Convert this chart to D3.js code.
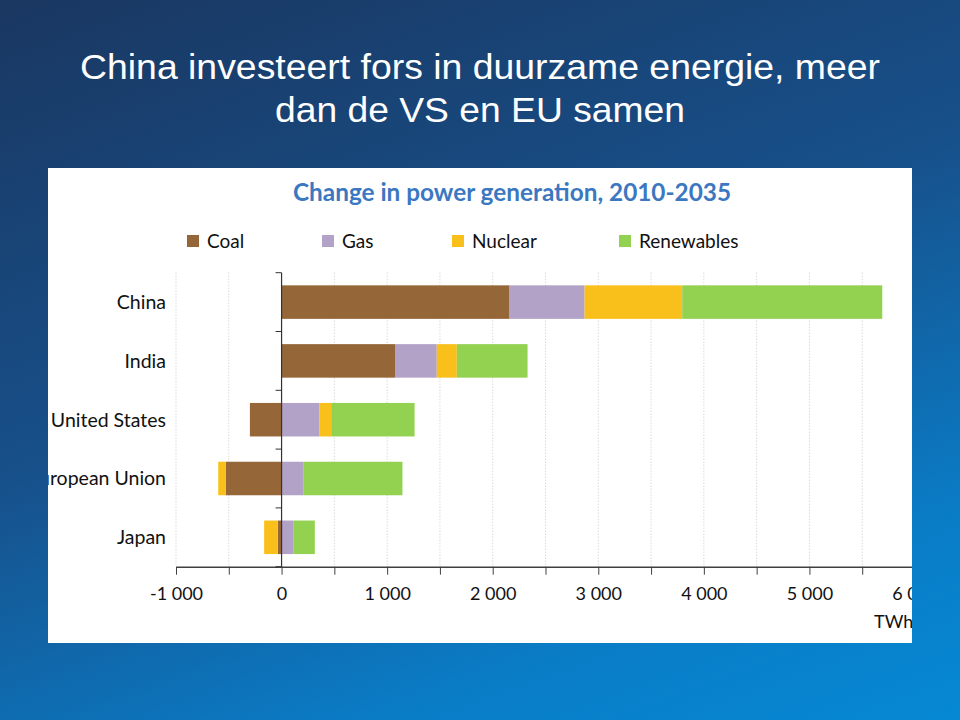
<!DOCTYPE html>
<html>
<head>
<meta charset="utf-8">
<script src="https://cdn.jsdelivr.net/npm/d3@7"></script>
<style>
  html, body { margin: 0; padding: 0; }
  body {
    width: 960px; height: 720px; overflow: hidden;
    background: linear-gradient(160deg, #1a3761 0%, #17508a 45%, #0a7cc6 80%, #0688d3 100%);
  }
</style>
</head>
<body>
<div id="container"></div>
<script>
const countries = ["China", "India", "United States", "European Union", "Japan"];
const seriesNames = ["Coal", "Gas", "Nuclear", "Renewables"];
const coal = [2160, 1080, -300, -530, -35];
const gas = [710, 390, 360, 205, 110];
const nuclear = [925, 190, 110, -70, -130];
const renewables = [1895, 670, 790, 940, 205];
const xTicks = [-1000, 0, 1000, 2000, 3000, 4000, 5000, 6000];

const colors = ["#956637", "#b3a2c7", "#f9c01c", "#93d150"];

const rows = countries.map((c, i) => ({
  country: c,
  Coal: coal[i],
  Gas: gas[i],
  Nuclear: nuclear[i],
  Renewables: renewables[i],
}));

const svg = d3
  .select("#container")
  .append("svg")
  .attr("width", 960)
  .attr("height", 720);

// slide title
const title = svg
  .append("text")
  .attr("text-anchor", "middle")
  .attr("fill", "#fff")
  .style("font-family", "'Liberation Sans', Arial, sans-serif")
  .style("font-size", "35px");
title.append("tspan").attr("x", 480).attr("y", 79)
  .attr("textLength", 800).attr("lengthAdjust", "spacingAndGlyphs")
  .text("China investeert fors in duurzame energie, meer");
title.append("tspan").attr("x", 480).attr("y", 122)
  .attr("textLength", 410).attr("lengthAdjust", "spacingAndGlyphs")
  .text("dan de VS en EU samen");

// white panel
const panel = { x: 48, y: 168, w: 864, h: 475 };
svg
  .append("defs")
  .append("clipPath")
  .attr("id", "panel-clip")
  .append("rect")
  .attr("x", panel.x)
  .attr("y", panel.y)
  .attr("width", panel.w)
  .attr("height", panel.h);

svg
  .append("rect")
  .attr("x", panel.x)
  .attr("y", panel.y)
  .attr("width", panel.w)
  .attr("height", panel.h)
  .attr("fill", "#fff");

const g = svg
  .append("g")
  .attr("clip-path", "url(#panel-clip)")
  .style("font-family", "Lato, 'Open Sans', sans-serif");

g.append("text")
  .attr("x", 512)
  .attr("y", 201)
  .attr("text-anchor", "middle")
  .attr("fill", "#3b78c1")
  .attr("textLength", 438)
  .attr("lengthAdjust", "spacingAndGlyphs")
  .style("font-size", "25px")
  .style("font-weight", "bold")
  .text("Change in power generation, 2010-2035");

// legend
const legendX = [187, 322, 452, 619];
const legend = g
  .selectAll(".legend")
  .data(seriesNames)
  .enter()
  .append("g")
  .attr("class", "legend")
  .attr("transform", (d, i) => `translate(${legendX[i]}, 241)`);
legend
  .append("rect")
  .attr("x", 0)
  .attr("y", -6)
  .attr("width", 12)
  .attr("height", 12)
  .attr("fill", (d, i) => colors[i]);
legend
  .append("text")
  .attr("x", 20)
  .attr("y", 7)
  .attr("fill", "#111")
  .style("font-size", "19px")
  .text((d) => d);

// scales
const x = d3.scaleLinear().domain([-1000, 6000]).range([176, 915]);
const y = d3
  .scaleBand()
  .domain(countries)
  .range([272.7, 566.7])
  .paddingInner(0.43)
  .paddingOuter(0.215);

// gridlines every 500
const gridValues = d3.range(-1000, 6001, 500).filter((d) => d !== 0);
g.selectAll(".grid")
  .data(gridValues)
  .enter()
  .append("line")
  .attr("class", "grid")
  .attr("x1", (d) => x(d))
  .attr("x2", (d) => x(d))
  .attr("y1", y.range()[0])
  .attr("y2", y.range()[1])
  .attr("stroke", "#c8c8c8")
  .attr("stroke-width", 1)
  .attr("stroke-dasharray", "1,2");

// stacked bars
const stack = d3.stack().keys(seriesNames).offset(d3.stackOffsetDiverging);
const stacked = stack(rows);

g.selectAll(".series")
  .data(stacked)
  .enter()
  .append("g")
  .attr("class", "series")
  .attr("fill", (d, i) => colors[i])
  .selectAll("rect")
  .data((d) => d)
  .enter()
  .append("rect")
  .attr("x", (d) => x(Math.min(d[0], d[1])))
  .attr("width", (d) => Math.abs(x(d[1]) - x(d[0])))
  .attr("y", (d) => y(d.data.country))
  .attr("height", y.bandwidth());

// x axis
const locale = d3.formatLocale({ decimal: ",", thousands: " ", grouping: [3], currency: ["", ""], minus: "-" });
const fmt = locale.format(",d");
const xAxis = d3
  .axisBottom(x)
  .tickValues(d3.range(-1000, 6001, 500))
  .tickFormat((d) => (xTicks.includes(d) ? fmt(d) : ""))
  .tickSize(8)
  .tickSizeOuter(0)
  .tickPadding(13);

const xg = g
  .append("g")
  .attr("transform", `translate(0, ${y.range()[1]})`)
  .call(xAxis);
xg.select(".domain").attr("stroke", "#404040").attr("stroke-width", 1.5);
xg.selectAll(".tick line").attr("stroke", "#404040");
xg.selectAll(".tick text")
  .attr("fill", "#111")
  .style("font-size", "18px")
  .style("font-family", "Lato, 'Open Sans', sans-serif");

// vertical zero axis with category ticks
g.append("line")
  .attr("x1", x(0))
  .attr("x2", x(0))
  .attr("y1", y.range()[0])
  .attr("y2", y.range()[1])
  .attr("stroke", "#333")
  .attr("stroke-width", 1.2);

const boundaries = d3.range(countries.length + 1).map((i) => y.range()[0] + i * y.step());
g.selectAll(".ytick")
  .data(boundaries)
  .enter()
  .append("line")
  .attr("x1", x(0) - 6)
  .attr("x2", x(0))
  .attr("y1", (d) => d)
  .attr("y2", (d) => d)
  .attr("stroke", "#333");

g.selectAll(".ylabel")
  .data(countries)
  .enter()
  .append("text")
  .attr("x", 166)
  .attr("y", (d) => y(d) + y.bandwidth() / 2)
  .attr("dy", "0.35em")
  .attr("text-anchor", "end")
  .attr("fill", "#111")
  .style("font-size", "19.5px")
  .text((d) => d);

g.append("text")
  .attr("x", 874)
  .attr("y", 628)
  .attr("fill", "#111")
  .style("font-size", "18px")
  .text("TWh");
</script>
</body>
</html>
